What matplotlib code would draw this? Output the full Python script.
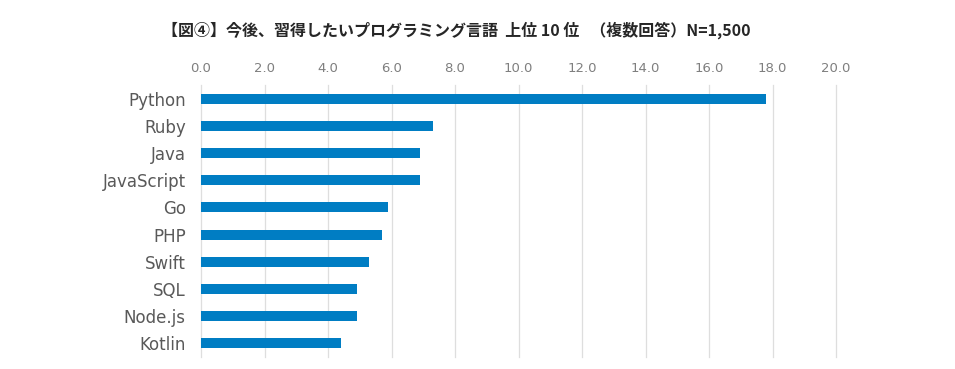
import matplotlib
matplotlib.use("Agg")
import matplotlib.pyplot as plt

plt.rcParams["font.family"] = ["DejaVu Sans"]

categories = ["Python", "Ruby", "Java", "JavaScript", "Go", "PHP", "Swift", "SQL", "Node.js", "Kotlin"]
values = [17.8, 7.3, 6.9, 6.9, 5.9, 5.7, 5.3, 4.9, 4.9, 4.4]
xticks = [0, 2, 4, 6, 8, 10, 12, 14, 16, 18, 20]
title = "【図④】今後、習得したいプログラミング言語  上位 10 位   （複数回答）N=1,500"

fig = plt.figure(figsize=(9.55, 3.69), dpi=100)
ax = fig.add_axes([201/955, 1-357/369, (836-201)/955, (357-85)/369])

ypos = list(range(len(categories)))
ax.barh(ypos, values, height=0.37, color="#007DC3", zorder=3)
ax.set_ylim(len(categories) - 0.5, -0.5)
ax.set_xlim(0, 20)
ax.set_yticks(ypos)
ax.set_yticklabels(categories, fontsize=12, color="#595959")
ax.set_xticks(xticks)
ax.set_xticklabels([f"{t:.1f}" for t in xticks], fontsize=9.5, color="#7f7f7f")
ax.xaxis.tick_top()
ax.tick_params(axis="both", length=0)
ax.tick_params(axis="y", pad=11)
ax.tick_params(axis="x", pad=7)
ax.grid(axis="x", color="#dedede", linewidth=0.9, zorder=0)
for gl in ax.get_xgridlines():
    gl.set_clip_on(False)
for s in ax.spines.values():
    s.set_visible(False)

fig.text(456/955, 1-30/369, title, ha="center", va="center", fontsize=11.5,
         fontweight="bold", color="#262626", family=["Noto Sans CJK JP", "DejaVu Sans"])

fig.savefig("out.png", dpi=100)
